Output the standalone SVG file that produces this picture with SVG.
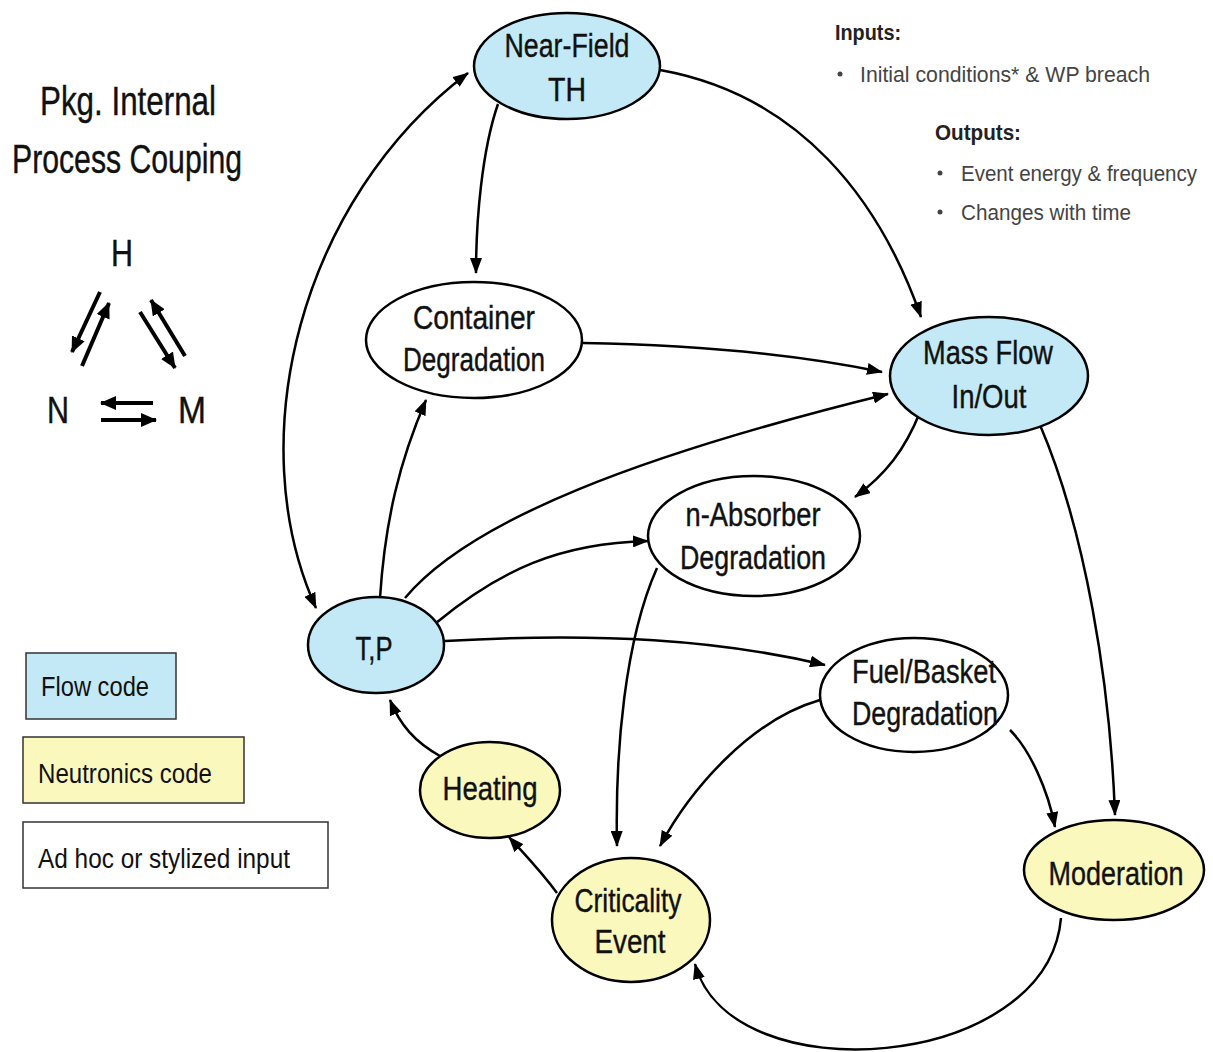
<svg xmlns="http://www.w3.org/2000/svg" width="1213" height="1052" viewBox="0 0 1213 1052">
  <style>
    .node { stroke: #000; stroke-width: 2.5; }
    .flow { fill: #c3e9f7; }
    .neut { fill: #fbf8bd; }
    .adhoc { fill: #ffffff; }
    .lbl { font-family: "Liberation Sans", Arial, sans-serif; font-size: 33px; fill: #111; stroke: #111; stroke-width: 0.4; text-anchor: middle; }
    .side { font-family: "Liberation Sans", Arial, sans-serif; fill: #111; stroke: #111; stroke-width: 0.4; }
    .note { font-family: "Liberation Sans", Arial, sans-serif; font-size: 22px; fill: #444; }
    .noteb { font-family: "Liberation Sans", Arial, sans-serif; font-size: 22px; font-weight: bold; fill: #222; }
    .conn { fill: none; stroke: #000; stroke-width: 2.5; }
    .hnm { fill: none; stroke: #000; stroke-width: 4; }
    .key { stroke: #333; stroke-width: 1.5; }
    .keytxt { font-family: "Liberation Sans", Arial, sans-serif; font-size: 27px; fill: #111; }
  </style>
  <defs>
    <marker id="arr" markerUnits="userSpaceOnUse" markerWidth="16" markerHeight="12" refX="15" refY="6" orient="auto-start-reverse">
      <path d="M0,0 L16,6 L0,12 z" fill="#000"/>
    </marker>
    <marker id="arrT" markerUnits="userSpaceOnUse" markerWidth="16" markerHeight="14" refX="15" refY="7" orient="auto">
      <path d="M0,0 L16,7 L0,14 z" fill="#000"/>
    </marker>
  </defs>

  <rect width="1213" height="1052" fill="#fff"/>

  <!-- Title -->
  <g id="title" class="side" font-size="40">
    <text x="40" y="115" textLength="176" lengthAdjust="spacingAndGlyphs">Pkg. Internal</text>
    <text x="12" y="173" textLength="230" lengthAdjust="spacingAndGlyphs">Process Couping</text>
  </g>

  <!-- H / N / M coupling triangle -->
  <g id="hnm">
    <text class="side" x="122" y="266" font-size="36" text-anchor="middle" textLength="22" lengthAdjust="spacingAndGlyphs">H</text>
    <text class="side" x="58" y="423" font-size="36" text-anchor="middle" textLength="22" lengthAdjust="spacingAndGlyphs">N</text>
    <text class="side" x="192" y="423" font-size="36" text-anchor="middle" textLength="28" lengthAdjust="spacingAndGlyphs">M</text>
    <line class="hnm" x1="100" y1="292" x2="72" y2="352" marker-end="url(#arrT)"/>
    <line class="hnm" x1="82" y1="366" x2="109" y2="303" marker-end="url(#arrT)"/>
    <line class="hnm" x1="140" y1="312" x2="175" y2="368" marker-end="url(#arrT)"/>
    <line class="hnm" x1="185" y1="356" x2="151" y2="300" marker-end="url(#arrT)"/>
    <line class="hnm" x1="153" y1="403" x2="101" y2="403" marker-end="url(#arrT)"/>
    <line class="hnm" x1="101" y1="420" x2="156" y2="420" marker-end="url(#arrT)"/>
  </g>

  <!-- Inputs / Outputs notes -->
  <g id="notes">
    <text class="noteb" x="835" y="40" textLength="66" lengthAdjust="spacingAndGlyphs">Inputs:</text>
    <circle cx="840" cy="74" r="2.5" fill="#444"/>
    <text class="note" x="860" y="82" textLength="290" lengthAdjust="spacingAndGlyphs">Initial conditions* &amp; WP breach</text>
    <text class="noteb" x="935" y="140" textLength="86" lengthAdjust="spacingAndGlyphs">Outputs:</text>
    <circle cx="940" cy="173" r="2.5" fill="#444"/>
    <text class="note" x="961" y="181" textLength="236" lengthAdjust="spacingAndGlyphs">Event energy &amp; frequency</text>
    <circle cx="940" cy="212" r="2.5" fill="#444"/>
    <text class="note" x="961" y="220" textLength="170" lengthAdjust="spacingAndGlyphs">Changes with time</text>
  </g>

  <!-- Legend -->
  <g id="legend">
    <rect class="key flow" x="26" y="653" width="150" height="66"/>
    <text class="keytxt" x="41" y="696" textLength="108" lengthAdjust="spacingAndGlyphs">Flow code</text>
    <rect class="key neut" x="23" y="737" width="221" height="66"/>
    <text class="keytxt" x="38" y="783" textLength="174" lengthAdjust="spacingAndGlyphs">Neutronics code</text>
    <rect class="key adhoc" x="23" y="822" width="305" height="66"/>
    <text class="keytxt" x="38" y="868" textLength="252" lengthAdjust="spacingAndGlyphs">Ad hoc or stylized input</text>
  </g>

  <!-- Connectors -->
  <g id="connectors">
    <path class="conn" d="M316 608 C240 440 300 200 468 73" marker-start="url(#arr)" marker-end="url(#arr)"/>
    <path class="conn" d="M498 104 C482 150 476 220 476 273" marker-end="url(#arr)"/>
    <path class="conn" d="M660 70 C800 95 880 200 921 317" marker-end="url(#arr)"/>
    <path class="conn" d="M583 343 C700 345 800 355 882 372" marker-end="url(#arr)"/>
    <path class="conn" d="M380 598 C385 520 400 460 426 400" marker-end="url(#arr)"/>
    <path class="conn" d="M405 598 C470 520 640 455 888 394" marker-end="url(#arr)"/>
    <path class="conn" d="M436 623 C500 570 560 543 648 541" marker-end="url(#arr)"/>
    <path class="conn" d="M445 641 C600 632 720 640 825 665" marker-end="url(#arr)"/>
    <path class="conn" d="M920 412 C905 450 885 475 855 497" marker-end="url(#arr)"/>
    <path class="conn" d="M1040 425 C1085 530 1110 680 1115 815" marker-end="url(#arr)"/>
    <path class="conn" d="M657 568 C625 640 615 750 617 846" marker-end="url(#arr)"/>
    <path class="conn" d="M820 700 C750 720 690 790 660 846" marker-end="url(#arr)"/>
    <path class="conn" d="M1010 730 C1030 750 1048 790 1055 827" marker-end="url(#arr)"/>
    <path class="conn" d="M1061 918 C1048 1072 730 1095 695 964" marker-end="url(#arr)"/>
    <path class="conn" d="M557 893 C540 870 525 855 509 837" marker-end="url(#arr)"/>
    <path class="conn" d="M440 756 C415 742 400 725 390 700" marker-end="url(#arr)"/>
  </g>

  <!-- Nodes -->
  <g id="near-field-th">
    <ellipse class="node flow" cx="567" cy="66" rx="93" ry="53"/>
    <text class="lbl" x="567" y="57" textLength="125" lengthAdjust="spacingAndGlyphs">Near-Field</text>
    <text class="lbl" x="567" y="101" textLength="38" lengthAdjust="spacingAndGlyphs">TH</text>
  </g>
  <g id="container-degradation">
    <ellipse class="node adhoc" cx="474" cy="340" rx="108" ry="58"/>
    <text class="lbl" x="474" y="329" textLength="122" lengthAdjust="spacingAndGlyphs">Container</text>
    <text class="lbl" x="474" y="371" textLength="142" lengthAdjust="spacingAndGlyphs">Degradation</text>
  </g>
  <g id="mass-flow">
    <ellipse class="node flow" cx="989" cy="376" rx="99" ry="59"/>
    <text class="lbl" x="988" y="364" textLength="130" lengthAdjust="spacingAndGlyphs">Mass Flow</text>
    <text class="lbl" x="989" y="408" textLength="75" lengthAdjust="spacingAndGlyphs">In/Out</text>
  </g>
  <g id="n-absorber-degradation">
    <ellipse class="node adhoc" cx="754" cy="536" rx="106" ry="60"/>
    <text class="lbl" x="753" y="526" textLength="135" lengthAdjust="spacingAndGlyphs">n-Absorber</text>
    <text class="lbl" x="753" y="569" textLength="146" lengthAdjust="spacingAndGlyphs">Degradation</text>
  </g>
  <g id="tp">
    <ellipse class="node flow" cx="376" cy="645" rx="68" ry="48"/>
    <text class="lbl" x="374" y="660" textLength="37" lengthAdjust="spacingAndGlyphs">T,P</text>
  </g>
  <g id="fuel-basket-degradation">
    <ellipse class="node adhoc" cx="914" cy="695" rx="94" ry="57"/>
    <text class="lbl" x="924" y="683" textLength="144" lengthAdjust="spacingAndGlyphs">Fuel/Basket</text>
    <text class="lbl" x="925" y="725" textLength="146" lengthAdjust="spacingAndGlyphs">Degradation</text>
  </g>
  <g id="heating">
    <ellipse class="node neut" cx="490" cy="790" rx="70" ry="48"/>
    <text class="lbl" x="490" y="800" textLength="95" lengthAdjust="spacingAndGlyphs">Heating</text>
  </g>
  <g id="criticality-event">
    <ellipse class="node neut" cx="631" cy="920" rx="79" ry="62"/>
    <text class="lbl" x="628" y="912" textLength="107" lengthAdjust="spacingAndGlyphs">Criticality</text>
    <text class="lbl" x="630" y="953" textLength="71" lengthAdjust="spacingAndGlyphs">Event</text>
  </g>
  <g id="moderation">
    <ellipse class="node neut" cx="1114" cy="870" rx="90" ry="50"/>
    <text class="lbl" x="1116" y="885" textLength="135" lengthAdjust="spacingAndGlyphs">Moderation</text>
  </g>
</svg>
